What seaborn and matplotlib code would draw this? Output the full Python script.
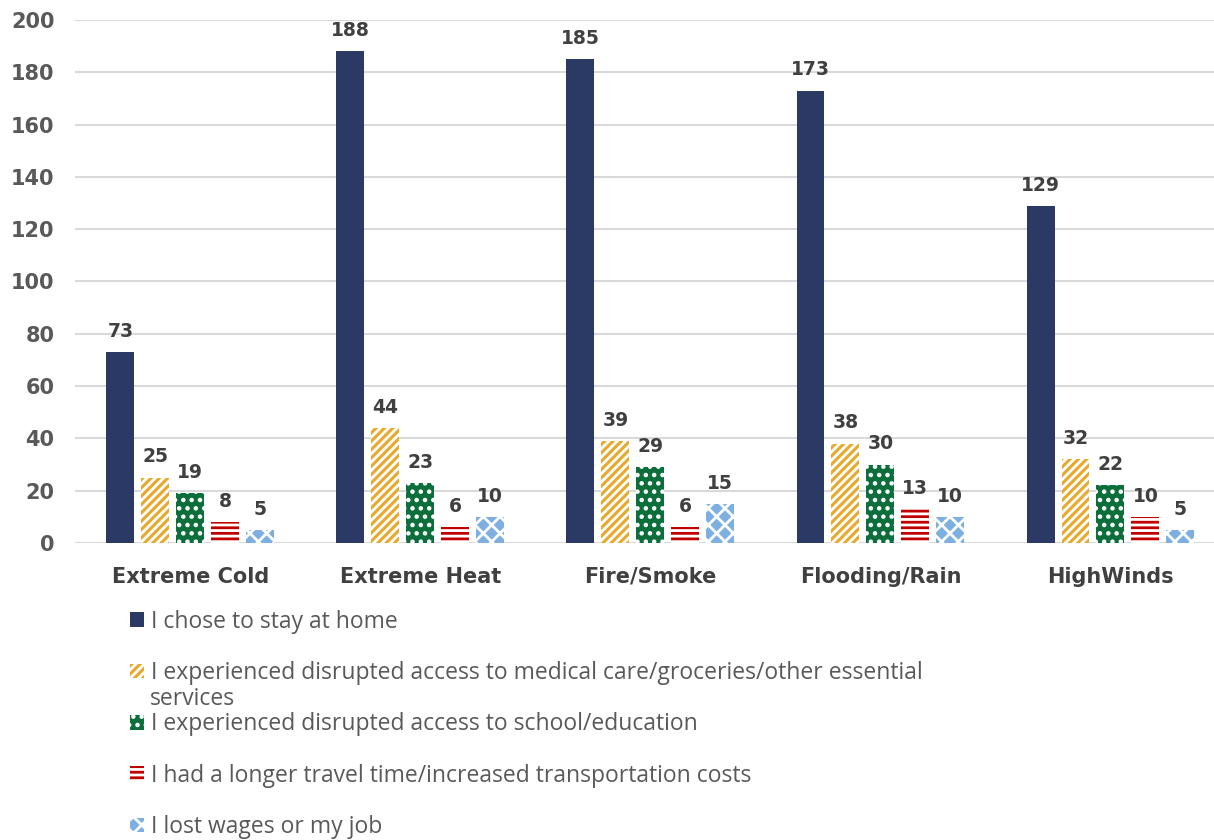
import matplotlib
matplotlib.use("Agg")
import matplotlib.pyplot as plt
import seaborn as sns
import pandas as pd
from matplotlib.patches import Patch

categories = ["Extreme Cold", "Extreme Heat", "Fire/Smoke", "Flooding/Rain", "HighWinds"]
series = [
    "I chose to stay at home",
    "I experienced disrupted access to medical care/groceries/other essential",
    "I experienced disrupted access to school/education",
    "I had a longer travel time/increased transportation costs",
    "I lost wages or my job",
]
series_wrap = "services"
stay_home = [73, 188, 185, 173, 129]
medical = [25, 44, 39, 38, 32]
school = [19, 23, 29, 30, 22]
travel = [8, 6, 6, 13, 10]
wages = [5, 10, 15, 10, 5]

colors = ["#2A3A65", "#E8AA2E", "#0C6E3B", "#C00000", "#7DB0E0"]
hatches = [None, "////", "..", "---", "xx"]

sns.set_theme(style="white")
plt.rcParams["font.family"] = ["Open Sans", "DejaVu Sans"]
plt.rcParams["hatch.linewidth"] = 2.0

rows = []
for s, vals in zip(series, [stay_home, medical, school, travel, wages]):
    for c, v in zip(categories, vals):
        rows.append({"category": c, "series": s, "value": v})
df = pd.DataFrame(rows)

fig = plt.figure(figsize=(12.14, 8.4), dpi=100)
ax = fig.add_axes([0.062, 0.3536, 0.938, 0.6226])

sns.barplot(data=df, x="category", y="value", hue="series", order=categories,
            hue_order=series, palette=colors, saturation=1, width=0.76, gap=0.2,
            legend=False, ax=ax)

bold = dict(family="DejaVu Sans", weight="bold")
for i, cont in enumerate(ax.containers):
    for bar in cont:
        bar.set_linewidth(0)
        if hatches[i]:
            bar.set_hatch(hatches[i])
            bar.set_edgecolor("white")
    ax.bar_label(cont, padding=8, fontsize=13.5, color="#404040", **bold)

ax.set_ylim(0, 200)
ax.set_xlim(-0.5, 4.45)
ax.set_yticks(range(0, 201, 20))
ax.yaxis.grid(True, color="#D9D9D9", linewidth=1.5)
ax.set_axisbelow(True)
for sp in ax.spines.values():
    sp.set_visible(False)
ax.set_xlabel("")
ax.set_ylabel("")
ax.tick_params(axis="y", labelcolor="#595959", pad=15, length=0)
ax.tick_params(axis="x", labelcolor="#404040", pad=17, length=0)
for lab in ax.get_yticklabels() + ax.get_xticklabels():
    lab.set_fontfamily("DejaVu Sans")
    lab.set_fontweight("bold")
    lab.set_fontsize(15)

handles = []
for c, h, s in zip(colors, hatches, series):
    p = Patch(facecolor=c, edgecolor="white" if h else c, hatch=h, linewidth=0, label=s)
    handles.append(p)
leg = fig.legend(handles=handles, loc="upper left", bbox_to_anchor=(0.107, 0.274),
                 frameon=False, fontsize=16.5, labelcolor="#595959",
                 handlelength=0.6, handleheight=0.6, handletextpad=0.3,
                 labelspacing=1.19, borderaxespad=0, borderpad=0)
fig.text(150 / 1214, 1 - 699 / 840, series_wrap, fontsize=16.5, color="#595959",
         va="center", ha="left")

fig.savefig("out.png", dpi=100)
